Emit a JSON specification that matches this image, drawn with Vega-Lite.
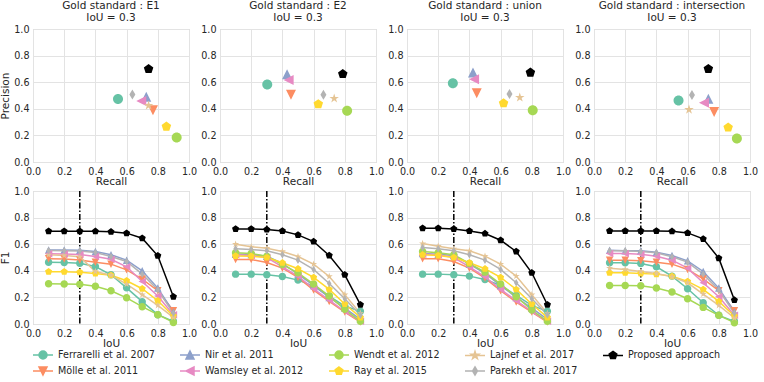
{
"$schema":"https://vega.github.io/schema/vega-lite/v6.json",
"padding":{"left":0,"top":0,"right":5,"bottom":0},
"datasets":{
"sc":[
{"gold":"E1","method":"Ferrarelli et al. 2007","recall":0.545,"precision":0.473},
{"gold":"E1","method":"Mölle et al. 2011","recall":0.769,"precision":0.39},
{"gold":"E1","method":"Nir et al. 2011","recall":0.726,"precision":0.49},
{"gold":"E1","method":"Wamsley et al. 2012","recall":0.694,"precision":0.458},
{"gold":"E1","method":"Wendt et al. 2012","recall":0.921,"precision":0.184},
{"gold":"E1","method":"Ray et al. 2015","recall":0.855,"precision":0.266},
{"gold":"E1","method":"Lajnef et al. 2017","recall":0.741,"precision":0.425},
{"gold":"E1","method":"Parekh et al. 2017","recall":0.637,"precision":0.507},
{"gold":"E1","method":"Proposed approach","recall":0.741,"precision":0.699},
{"gold":"E2","method":"Ferrarelli et al. 2007","recall":0.303,"precision":0.583},
{"gold":"E2","method":"Mölle et al. 2011","recall":0.455,"precision":0.505},
{"gold":"E2","method":"Nir et al. 2011","recall":0.43,"precision":0.66},
{"gold":"E2","method":"Wamsley et al. 2012","recall":0.44,"precision":0.617},
{"gold":"E2","method":"Wendt et al. 2012","recall":0.815,"precision":0.385},
{"gold":"E2","method":"Ray et al. 2015","recall":0.63,"precision":0.435},
{"gold":"E2","method":"Lajnef et al. 2017","recall":0.732,"precision":0.478},
{"gold":"E2","method":"Parekh et al. 2017","recall":0.663,"precision":0.505},
{"gold":"E2","method":"Proposed approach","recall":0.787,"precision":0.662},
{"gold":"union","method":"Ferrarelli et al. 2007","recall":0.294,"precision":0.592},
{"gold":"union","method":"Mölle et al. 2011","recall":0.447,"precision":0.517},
{"gold":"union","method":"Nir et al. 2011","recall":0.423,"precision":0.672},
{"gold":"union","method":"Wamsley et al. 2012","recall":0.43,"precision":0.622},
{"gold":"union","method":"Wendt et al. 2012","recall":0.806,"precision":0.39},
{"gold":"union","method":"Ray et al. 2015","recall":0.619,"precision":0.442},
{"gold":"union","method":"Lajnef et al. 2017","recall":0.723,"precision":0.485},
{"gold":"union","method":"Parekh et al. 2017","recall":0.657,"precision":0.512},
{"gold":"union","method":"Proposed approach","recall":0.791,"precision":0.672},
{"gold":"intersection","method":"Ferrarelli et al. 2007","recall":0.542,"precision":0.463},
{"gold":"intersection","method":"Mölle et al. 2011","recall":0.77,"precision":0.376},
{"gold":"intersection","method":"Nir et al. 2011","recall":0.733,"precision":0.476},
{"gold":"intersection","method":"Wamsley et al. 2012","recall":0.705,"precision":0.446},
{"gold":"intersection","method":"Wendt et al. 2012","recall":0.916,"precision":0.176},
{"gold":"intersection","method":"Ray et al. 2015","recall":0.86,"precision":0.26},
{"gold":"intersection","method":"Lajnef et al. 2017","recall":0.609,"precision":0.394},
{"gold":"intersection","method":"Parekh et al. 2017","recall":0.628,"precision":0.503},
{"gold":"intersection","method":"Proposed approach","recall":0.733,"precision":0.70}
],
"f1":[
{"gold":"E1","method":"Ferrarelli et al. 2007","iou":0.1,"f1":0.465},{"gold":"E1","method":"Ferrarelli et al. 2007","iou":0.2,"f1":0.463},{"gold":"E1","method":"Ferrarelli et al. 2007","iou":0.3,"f1":0.457},{"gold":"E1","method":"Ferrarelli et al. 2007","iou":0.4,"f1":0.432},{"gold":"E1","method":"Ferrarelli et al. 2007","iou":0.5,"f1":0.37},{"gold":"E1","method":"Ferrarelli et al. 2007","iou":0.6,"f1":0.272},{"gold":"E1","method":"Ferrarelli et al. 2007","iou":0.7,"f1":0.168},{"gold":"E1","method":"Ferrarelli et al. 2007","iou":0.8,"f1":0.07},{"gold":"E1","method":"Ferrarelli et al. 2007","iou":0.9,"f1":0.02},
{"gold":"E1","method":"Mölle et al. 2011","iou":0.1,"f1":0.49},{"gold":"E1","method":"Mölle et al. 2011","iou":0.2,"f1":0.488},{"gold":"E1","method":"Mölle et al. 2011","iou":0.3,"f1":0.482},{"gold":"E1","method":"Mölle et al. 2011","iou":0.4,"f1":0.465},{"gold":"E1","method":"Mölle et al. 2011","iou":0.5,"f1":0.45},{"gold":"E1","method":"Mölle et al. 2011","iou":0.6,"f1":0.407},{"gold":"E1","method":"Mölle et al. 2011","iou":0.7,"f1":0.337},{"gold":"E1","method":"Mölle et al. 2011","iou":0.8,"f1":0.25},{"gold":"E1","method":"Mölle et al. 2011","iou":0.9,"f1":0.1},
{"gold":"E1","method":"Nir et al. 2011","iou":0.1,"f1":0.557},{"gold":"E1","method":"Nir et al. 2011","iou":0.2,"f1":0.557},{"gold":"E1","method":"Nir et al. 2011","iou":0.3,"f1":0.555},{"gold":"E1","method":"Nir et al. 2011","iou":0.4,"f1":0.545},{"gold":"E1","method":"Nir et al. 2011","iou":0.5,"f1":0.52},{"gold":"E1","method":"Nir et al. 2011","iou":0.6,"f1":0.48},{"gold":"E1","method":"Nir et al. 2011","iou":0.7,"f1":0.40},{"gold":"E1","method":"Nir et al. 2011","iou":0.8,"f1":0.27},{"gold":"E1","method":"Nir et al. 2011","iou":0.9,"f1":0.09},
{"gold":"E1","method":"Wamsley et al. 2012","iou":0.1,"f1":0.528},{"gold":"E1","method":"Wamsley et al. 2012","iou":0.2,"f1":0.527},{"gold":"E1","method":"Wamsley et al. 2012","iou":0.3,"f1":0.522},{"gold":"E1","method":"Wamsley et al. 2012","iou":0.4,"f1":0.508},{"gold":"E1","method":"Wamsley et al. 2012","iou":0.5,"f1":0.487},{"gold":"E1","method":"Wamsley et al. 2012","iou":0.6,"f1":0.43},{"gold":"E1","method":"Wamsley et al. 2012","iou":0.7,"f1":0.32},{"gold":"E1","method":"Wamsley et al. 2012","iou":0.8,"f1":0.21},{"gold":"E1","method":"Wamsley et al. 2012","iou":0.9,"f1":0.07},
{"gold":"E1","method":"Wendt et al. 2012","iou":0.1,"f1":0.302},{"gold":"E1","method":"Wendt et al. 2012","iou":0.2,"f1":0.3},{"gold":"E1","method":"Wendt et al. 2012","iou":0.3,"f1":0.298},{"gold":"E1","method":"Wendt et al. 2012","iou":0.4,"f1":0.283},{"gold":"E1","method":"Wendt et al. 2012","iou":0.5,"f1":0.25},{"gold":"E1","method":"Wendt et al. 2012","iou":0.6,"f1":0.197},{"gold":"E1","method":"Wendt et al. 2012","iou":0.7,"f1":0.13},{"gold":"E1","method":"Wendt et al. 2012","iou":0.8,"f1":0.07},{"gold":"E1","method":"Wendt et al. 2012","iou":0.9,"f1":0.012},
{"gold":"E1","method":"Ray et al. 2015","iou":0.1,"f1":0.393},{"gold":"E1","method":"Ray et al. 2015","iou":0.2,"f1":0.393},{"gold":"E1","method":"Ray et al. 2015","iou":0.3,"f1":0.39},{"gold":"E1","method":"Ray et al. 2015","iou":0.4,"f1":0.38},{"gold":"E1","method":"Ray et al. 2015","iou":0.5,"f1":0.367},{"gold":"E1","method":"Ray et al. 2015","iou":0.6,"f1":0.325},{"gold":"E1","method":"Ray et al. 2015","iou":0.7,"f1":0.265},{"gold":"E1","method":"Ray et al. 2015","iou":0.8,"f1":0.175},{"gold":"E1","method":"Ray et al. 2015","iou":0.9,"f1":0.06},
{"gold":"E1","method":"Lajnef et al. 2017","iou":0.1,"f1":0.52},{"gold":"E1","method":"Lajnef et al. 2017","iou":0.2,"f1":0.515},{"gold":"E1","method":"Lajnef et al. 2017","iou":0.3,"f1":0.505},{"gold":"E1","method":"Lajnef et al. 2017","iou":0.4,"f1":0.395},{"gold":"E1","method":"Lajnef et al. 2017","iou":0.5,"f1":0.367},{"gold":"E1","method":"Lajnef et al. 2017","iou":0.6,"f1":0.3},{"gold":"E1","method":"Lajnef et al. 2017","iou":0.7,"f1":0.22},{"gold":"E1","method":"Lajnef et al. 2017","iou":0.8,"f1":0.14},{"gold":"E1","method":"Lajnef et al. 2017","iou":0.9,"f1":0.05},
{"gold":"E1","method":"Parekh et al. 2017","iou":0.1,"f1":0.552},{"gold":"E1","method":"Parekh et al. 2017","iou":0.2,"f1":0.551},{"gold":"E1","method":"Parekh et al. 2017","iou":0.3,"f1":0.548},{"gold":"E1","method":"Parekh et al. 2017","iou":0.4,"f1":0.538},{"gold":"E1","method":"Parekh et al. 2017","iou":0.5,"f1":0.507},{"gold":"E1","method":"Parekh et al. 2017","iou":0.6,"f1":0.47},{"gold":"E1","method":"Parekh et al. 2017","iou":0.7,"f1":0.375},{"gold":"E1","method":"Parekh et al. 2017","iou":0.8,"f1":0.257},{"gold":"E1","method":"Parekh et al. 2017","iou":0.9,"f1":0.08},
{"gold":"E1","method":"Proposed approach","iou":0.1,"f1":0.698},{"gold":"E1","method":"Proposed approach","iou":0.2,"f1":0.698},{"gold":"E1","method":"Proposed approach","iou":0.3,"f1":0.698},{"gold":"E1","method":"Proposed approach","iou":0.4,"f1":0.697},{"gold":"E1","method":"Proposed approach","iou":0.5,"f1":0.693},{"gold":"E1","method":"Proposed approach","iou":0.6,"f1":0.683},{"gold":"E1","method":"Proposed approach","iou":0.7,"f1":0.645},{"gold":"E1","method":"Proposed approach","iou":0.8,"f1":0.513},{"gold":"E1","method":"Proposed approach","iou":0.9,"f1":0.205},
{"gold":"E2","method":"Ferrarelli et al. 2007","iou":0.1,"f1":0.375},{"gold":"E2","method":"Ferrarelli et al. 2007","iou":0.2,"f1":0.375},{"gold":"E2","method":"Ferrarelli et al. 2007","iou":0.3,"f1":0.37},{"gold":"E2","method":"Ferrarelli et al. 2007","iou":0.4,"f1":0.357},{"gold":"E2","method":"Ferrarelli et al. 2007","iou":0.5,"f1":0.33},{"gold":"E2","method":"Ferrarelli et al. 2007","iou":0.6,"f1":0.285},{"gold":"E2","method":"Ferrarelli et al. 2007","iou":0.7,"f1":0.21},{"gold":"E2","method":"Ferrarelli et al. 2007","iou":0.8,"f1":0.135},{"gold":"E2","method":"Ferrarelli et al. 2007","iou":0.9,"f1":0.095},
{"gold":"E2","method":"Mölle et al. 2011","iou":0.1,"f1":0.485},{"gold":"E2","method":"Mölle et al. 2011","iou":0.2,"f1":0.485},{"gold":"E2","method":"Mölle et al. 2011","iou":0.3,"f1":0.463},{"gold":"E2","method":"Mölle et al. 2011","iou":0.4,"f1":0.42},{"gold":"E2","method":"Mölle et al. 2011","iou":0.5,"f1":0.35},{"gold":"E2","method":"Mölle et al. 2011","iou":0.6,"f1":0.255},{"gold":"E2","method":"Mölle et al. 2011","iou":0.7,"f1":0.17},{"gold":"E2","method":"Mölle et al. 2011","iou":0.8,"f1":0.09},{"gold":"E2","method":"Mölle et al. 2011","iou":0.9,"f1":0.015},
{"gold":"E2","method":"Nir et al. 2011","iou":0.1,"f1":0.525},{"gold":"E2","method":"Nir et al. 2011","iou":0.2,"f1":0.522},{"gold":"E2","method":"Nir et al. 2011","iou":0.3,"f1":0.51},{"gold":"E2","method":"Nir et al. 2011","iou":0.4,"f1":0.455},{"gold":"E2","method":"Nir et al. 2011","iou":0.5,"f1":0.375},{"gold":"E2","method":"Nir et al. 2011","iou":0.6,"f1":0.29},{"gold":"E2","method":"Nir et al. 2011","iou":0.7,"f1":0.2},{"gold":"E2","method":"Nir et al. 2011","iou":0.8,"f1":0.12},{"gold":"E2","method":"Nir et al. 2011","iou":0.9,"f1":0.035},
{"gold":"E2","method":"Wamsley et al. 2012","iou":0.1,"f1":0.52},{"gold":"E2","method":"Wamsley et al. 2012","iou":0.2,"f1":0.515},{"gold":"E2","method":"Wamsley et al. 2012","iou":0.3,"f1":0.50},{"gold":"E2","method":"Wamsley et al. 2012","iou":0.4,"f1":0.43},{"gold":"E2","method":"Wamsley et al. 2012","iou":0.5,"f1":0.36},{"gold":"E2","method":"Wamsley et al. 2012","iou":0.6,"f1":0.265},{"gold":"E2","method":"Wamsley et al. 2012","iou":0.7,"f1":0.18},{"gold":"E2","method":"Wamsley et al. 2012","iou":0.8,"f1":0.095},{"gold":"E2","method":"Wamsley et al. 2012","iou":0.9,"f1":0.02},
{"gold":"E2","method":"Wendt et al. 2012","iou":0.1,"f1":0.535},{"gold":"E2","method":"Wendt et al. 2012","iou":0.2,"f1":0.53},{"gold":"E2","method":"Wendt et al. 2012","iou":0.3,"f1":0.51},{"gold":"E2","method":"Wendt et al. 2012","iou":0.4,"f1":0.447},{"gold":"E2","method":"Wendt et al. 2012","iou":0.5,"f1":0.385},{"gold":"E2","method":"Wendt et al. 2012","iou":0.6,"f1":0.30},{"gold":"E2","method":"Wendt et al. 2012","iou":0.7,"f1":0.21},{"gold":"E2","method":"Wendt et al. 2012","iou":0.8,"f1":0.11},{"gold":"E2","method":"Wendt et al. 2012","iou":0.9,"f1":0.02},
{"gold":"E2","method":"Ray et al. 2015","iou":0.1,"f1":0.512},{"gold":"E2","method":"Ray et al. 2015","iou":0.2,"f1":0.51},{"gold":"E2","method":"Ray et al. 2015","iou":0.3,"f1":0.50},{"gold":"E2","method":"Ray et al. 2015","iou":0.4,"f1":0.46},{"gold":"E2","method":"Ray et al. 2015","iou":0.5,"f1":0.415},{"gold":"E2","method":"Ray et al. 2015","iou":0.6,"f1":0.35},{"gold":"E2","method":"Ray et al. 2015","iou":0.7,"f1":0.26},{"gold":"E2","method":"Ray et al. 2015","iou":0.8,"f1":0.15},{"gold":"E2","method":"Ray et al. 2015","iou":0.9,"f1":0.05},
{"gold":"E2","method":"Lajnef et al. 2017","iou":0.1,"f1":0.60},{"gold":"E2","method":"Lajnef et al. 2017","iou":0.2,"f1":0.58},{"gold":"E2","method":"Lajnef et al. 2017","iou":0.3,"f1":0.57},{"gold":"E2","method":"Lajnef et al. 2017","iou":0.4,"f1":0.545},{"gold":"E2","method":"Lajnef et al. 2017","iou":0.5,"f1":0.507},{"gold":"E2","method":"Lajnef et al. 2017","iou":0.6,"f1":0.45},{"gold":"E2","method":"Lajnef et al. 2017","iou":0.7,"f1":0.357},{"gold":"E2","method":"Lajnef et al. 2017","iou":0.8,"f1":0.22},{"gold":"E2","method":"Lajnef et al. 2017","iou":0.9,"f1":0.08},
{"gold":"E2","method":"Parekh et al. 2017","iou":0.1,"f1":0.565},{"gold":"E2","method":"Parekh et al. 2017","iou":0.2,"f1":0.56},{"gold":"E2","method":"Parekh et al. 2017","iou":0.3,"f1":0.55},{"gold":"E2","method":"Parekh et al. 2017","iou":0.4,"f1":0.52},{"gold":"E2","method":"Parekh et al. 2017","iou":0.5,"f1":0.48},{"gold":"E2","method":"Parekh et al. 2017","iou":0.6,"f1":0.41},{"gold":"E2","method":"Parekh et al. 2017","iou":0.7,"f1":0.305},{"gold":"E2","method":"Parekh et al. 2017","iou":0.8,"f1":0.19},{"gold":"E2","method":"Parekh et al. 2017","iou":0.9,"f1":0.065},
{"gold":"E2","method":"Proposed approach","iou":0.1,"f1":0.715},{"gold":"E2","method":"Proposed approach","iou":0.2,"f1":0.715},{"gold":"E2","method":"Proposed approach","iou":0.3,"f1":0.71},{"gold":"E2","method":"Proposed approach","iou":0.4,"f1":0.70},{"gold":"E2","method":"Proposed approach","iou":0.5,"f1":0.67},{"gold":"E2","method":"Proposed approach","iou":0.6,"f1":0.62},{"gold":"E2","method":"Proposed approach","iou":0.7,"f1":0.515},{"gold":"E2","method":"Proposed approach","iou":0.8,"f1":0.37},{"gold":"E2","method":"Proposed approach","iou":0.9,"f1":0.145},
{"gold":"union","method":"Ferrarelli et al. 2007","iou":0.1,"f1":0.375},{"gold":"union","method":"Ferrarelli et al. 2007","iou":0.2,"f1":0.375},{"gold":"union","method":"Ferrarelli et al. 2007","iou":0.3,"f1":0.37},{"gold":"union","method":"Ferrarelli et al. 2007","iou":0.4,"f1":0.36},{"gold":"union","method":"Ferrarelli et al. 2007","iou":0.5,"f1":0.335},{"gold":"union","method":"Ferrarelli et al. 2007","iou":0.6,"f1":0.29},{"gold":"union","method":"Ferrarelli et al. 2007","iou":0.7,"f1":0.215},{"gold":"union","method":"Ferrarelli et al. 2007","iou":0.8,"f1":0.14},{"gold":"union","method":"Ferrarelli et al. 2007","iou":0.9,"f1":0.095},
{"gold":"union","method":"Mölle et al. 2011","iou":0.1,"f1":0.49},{"gold":"union","method":"Mölle et al. 2011","iou":0.2,"f1":0.49},{"gold":"union","method":"Mölle et al. 2011","iou":0.3,"f1":0.47},{"gold":"union","method":"Mölle et al. 2011","iou":0.4,"f1":0.42},{"gold":"union","method":"Mölle et al. 2011","iou":0.5,"f1":0.345},{"gold":"union","method":"Mölle et al. 2011","iou":0.6,"f1":0.25},{"gold":"union","method":"Mölle et al. 2011","iou":0.7,"f1":0.165},{"gold":"union","method":"Mölle et al. 2011","iou":0.8,"f1":0.09},{"gold":"union","method":"Mölle et al. 2011","iou":0.9,"f1":0.015},
{"gold":"union","method":"Nir et al. 2011","iou":0.1,"f1":0.53},{"gold":"union","method":"Nir et al. 2011","iou":0.2,"f1":0.525},{"gold":"union","method":"Nir et al. 2011","iou":0.3,"f1":0.515},{"gold":"union","method":"Nir et al. 2011","iou":0.4,"f1":0.45},{"gold":"union","method":"Nir et al. 2011","iou":0.5,"f1":0.38},{"gold":"union","method":"Nir et al. 2011","iou":0.6,"f1":0.29},{"gold":"union","method":"Nir et al. 2011","iou":0.7,"f1":0.2},{"gold":"union","method":"Nir et al. 2011","iou":0.8,"f1":0.12},{"gold":"union","method":"Nir et al. 2011","iou":0.9,"f1":0.035},
{"gold":"union","method":"Wamsley et al. 2012","iou":0.1,"f1":0.525},{"gold":"union","method":"Wamsley et al. 2012","iou":0.2,"f1":0.52},{"gold":"union","method":"Wamsley et al. 2012","iou":0.3,"f1":0.50},{"gold":"union","method":"Wamsley et al. 2012","iou":0.4,"f1":0.43},{"gold":"union","method":"Wamsley et al. 2012","iou":0.5,"f1":0.355},{"gold":"union","method":"Wamsley et al. 2012","iou":0.6,"f1":0.26},{"gold":"union","method":"Wamsley et al. 2012","iou":0.7,"f1":0.175},{"gold":"union","method":"Wamsley et al. 2012","iou":0.8,"f1":0.095},{"gold":"union","method":"Wamsley et al. 2012","iou":0.9,"f1":0.02},
{"gold":"union","method":"Wendt et al. 2012","iou":0.1,"f1":0.545},{"gold":"union","method":"Wendt et al. 2012","iou":0.2,"f1":0.535},{"gold":"union","method":"Wendt et al. 2012","iou":0.3,"f1":0.52},{"gold":"union","method":"Wendt et al. 2012","iou":0.4,"f1":0.455},{"gold":"union","method":"Wendt et al. 2012","iou":0.5,"f1":0.39},{"gold":"union","method":"Wendt et al. 2012","iou":0.6,"f1":0.30},{"gold":"union","method":"Wendt et al. 2012","iou":0.7,"f1":0.205},{"gold":"union","method":"Wendt et al. 2012","iou":0.8,"f1":0.105},{"gold":"union","method":"Wendt et al. 2012","iou":0.9,"f1":0.02},
{"gold":"union","method":"Ray et al. 2015","iou":0.1,"f1":0.52},{"gold":"union","method":"Ray et al. 2015","iou":0.2,"f1":0.515},{"gold":"union","method":"Ray et al. 2015","iou":0.3,"f1":0.50},{"gold":"union","method":"Ray et al. 2015","iou":0.4,"f1":0.46},{"gold":"union","method":"Ray et al. 2015","iou":0.5,"f1":0.415},{"gold":"union","method":"Ray et al. 2015","iou":0.6,"f1":0.35},{"gold":"union","method":"Ray et al. 2015","iou":0.7,"f1":0.26},{"gold":"union","method":"Ray et al. 2015","iou":0.8,"f1":0.15},{"gold":"union","method":"Ray et al. 2015","iou":0.9,"f1":0.05},
{"gold":"union","method":"Lajnef et al. 2017","iou":0.1,"f1":0.605},{"gold":"union","method":"Lajnef et al. 2017","iou":0.2,"f1":0.585},{"gold":"union","method":"Lajnef et al. 2017","iou":0.3,"f1":0.565},{"gold":"union","method":"Lajnef et al. 2017","iou":0.4,"f1":0.55},{"gold":"union","method":"Lajnef et al. 2017","iou":0.5,"f1":0.51},{"gold":"union","method":"Lajnef et al. 2017","iou":0.6,"f1":0.45},{"gold":"union","method":"Lajnef et al. 2017","iou":0.7,"f1":0.36},{"gold":"union","method":"Lajnef et al. 2017","iou":0.8,"f1":0.22},{"gold":"union","method":"Lajnef et al. 2017","iou":0.9,"f1":0.08},
{"gold":"union","method":"Parekh et al. 2017","iou":0.1,"f1":0.575},{"gold":"union","method":"Parekh et al. 2017","iou":0.2,"f1":0.565},{"gold":"union","method":"Parekh et al. 2017","iou":0.3,"f1":0.55},{"gold":"union","method":"Parekh et al. 2017","iou":0.4,"f1":0.52},{"gold":"union","method":"Parekh et al. 2017","iou":0.5,"f1":0.48},{"gold":"union","method":"Parekh et al. 2017","iou":0.6,"f1":0.41},{"gold":"union","method":"Parekh et al. 2017","iou":0.7,"f1":0.31},{"gold":"union","method":"Parekh et al. 2017","iou":0.8,"f1":0.19},{"gold":"union","method":"Parekh et al. 2017","iou":0.9,"f1":0.07},
{"gold":"union","method":"Proposed approach","iou":0.1,"f1":0.72},{"gold":"union","method":"Proposed approach","iou":0.2,"f1":0.72},{"gold":"union","method":"Proposed approach","iou":0.3,"f1":0.715},{"gold":"union","method":"Proposed approach","iou":0.4,"f1":0.70},{"gold":"union","method":"Proposed approach","iou":0.5,"f1":0.68},{"gold":"union","method":"Proposed approach","iou":0.6,"f1":0.63},{"gold":"union","method":"Proposed approach","iou":0.7,"f1":0.545},{"gold":"union","method":"Proposed approach","iou":0.8,"f1":0.385},{"gold":"union","method":"Proposed approach","iou":0.9,"f1":0.145},
{"gold":"intersection","method":"Ferrarelli et al. 2007","iou":0.1,"f1":0.46},{"gold":"intersection","method":"Ferrarelli et al. 2007","iou":0.2,"f1":0.46},{"gold":"intersection","method":"Ferrarelli et al. 2007","iou":0.3,"f1":0.455},{"gold":"intersection","method":"Ferrarelli et al. 2007","iou":0.4,"f1":0.43},{"gold":"intersection","method":"Ferrarelli et al. 2007","iou":0.5,"f1":0.36},{"gold":"intersection","method":"Ferrarelli et al. 2007","iou":0.6,"f1":0.265},{"gold":"intersection","method":"Ferrarelli et al. 2007","iou":0.7,"f1":0.16},{"gold":"intersection","method":"Ferrarelli et al. 2007","iou":0.8,"f1":0.065},{"gold":"intersection","method":"Ferrarelli et al. 2007","iou":0.9,"f1":0.02},
{"gold":"intersection","method":"Mölle et al. 2011","iou":0.1,"f1":0.48},{"gold":"intersection","method":"Mölle et al. 2011","iou":0.2,"f1":0.48},{"gold":"intersection","method":"Mölle et al. 2011","iou":0.3,"f1":0.475},{"gold":"intersection","method":"Mölle et al. 2011","iou":0.4,"f1":0.465},{"gold":"intersection","method":"Mölle et al. 2011","iou":0.5,"f1":0.45},{"gold":"intersection","method":"Mölle et al. 2011","iou":0.6,"f1":0.41},{"gold":"intersection","method":"Mölle et al. 2011","iou":0.7,"f1":0.34},{"gold":"intersection","method":"Mölle et al. 2011","iou":0.8,"f1":0.25},{"gold":"intersection","method":"Mölle et al. 2011","iou":0.9,"f1":0.1},
{"gold":"intersection","method":"Nir et al. 2011","iou":0.1,"f1":0.555},{"gold":"intersection","method":"Nir et al. 2011","iou":0.2,"f1":0.55},{"gold":"intersection","method":"Nir et al. 2011","iou":0.3,"f1":0.55},{"gold":"intersection","method":"Nir et al. 2011","iou":0.4,"f1":0.54},{"gold":"intersection","method":"Nir et al. 2011","iou":0.5,"f1":0.515},{"gold":"intersection","method":"Nir et al. 2011","iou":0.6,"f1":0.475},{"gold":"intersection","method":"Nir et al. 2011","iou":0.7,"f1":0.395},{"gold":"intersection","method":"Nir et al. 2011","iou":0.8,"f1":0.27},{"gold":"intersection","method":"Nir et al. 2011","iou":0.9,"f1":0.09},
{"gold":"intersection","method":"Wamsley et al. 2012","iou":0.1,"f1":0.53},{"gold":"intersection","method":"Wamsley et al. 2012","iou":0.2,"f1":0.53},{"gold":"intersection","method":"Wamsley et al. 2012","iou":0.3,"f1":0.525},{"gold":"intersection","method":"Wamsley et al. 2012","iou":0.4,"f1":0.51},{"gold":"intersection","method":"Wamsley et al. 2012","iou":0.5,"f1":0.48},{"gold":"intersection","method":"Wamsley et al. 2012","iou":0.6,"f1":0.42},{"gold":"intersection","method":"Wamsley et al. 2012","iou":0.7,"f1":0.31},{"gold":"intersection","method":"Wamsley et al. 2012","iou":0.8,"f1":0.205},{"gold":"intersection","method":"Wamsley et al. 2012","iou":0.9,"f1":0.065},
{"gold":"intersection","method":"Wendt et al. 2012","iou":0.1,"f1":0.29},{"gold":"intersection","method":"Wendt et al. 2012","iou":0.2,"f1":0.29},{"gold":"intersection","method":"Wendt et al. 2012","iou":0.3,"f1":0.287},{"gold":"intersection","method":"Wendt et al. 2012","iou":0.4,"f1":0.27},{"gold":"intersection","method":"Wendt et al. 2012","iou":0.5,"f1":0.24},{"gold":"intersection","method":"Wendt et al. 2012","iou":0.6,"f1":0.19},{"gold":"intersection","method":"Wendt et al. 2012","iou":0.7,"f1":0.125},{"gold":"intersection","method":"Wendt et al. 2012","iou":0.8,"f1":0.065},{"gold":"intersection","method":"Wendt et al. 2012","iou":0.9,"f1":0.01},
{"gold":"intersection","method":"Ray et al. 2015","iou":0.1,"f1":0.385},{"gold":"intersection","method":"Ray et al. 2015","iou":0.2,"f1":0.385},{"gold":"intersection","method":"Ray et al. 2015","iou":0.3,"f1":0.38},{"gold":"intersection","method":"Ray et al. 2015","iou":0.4,"f1":0.375},{"gold":"intersection","method":"Ray et al. 2015","iou":0.5,"f1":0.36},{"gold":"intersection","method":"Ray et al. 2015","iou":0.6,"f1":0.32},{"gold":"intersection","method":"Ray et al. 2015","iou":0.7,"f1":0.26},{"gold":"intersection","method":"Ray et al. 2015","iou":0.8,"f1":0.17},{"gold":"intersection","method":"Ray et al. 2015","iou":0.9,"f1":0.06},
{"gold":"intersection","method":"Lajnef et al. 2017","iou":0.1,"f1":0.42},{"gold":"intersection","method":"Lajnef et al. 2017","iou":0.2,"f1":0.41},{"gold":"intersection","method":"Lajnef et al. 2017","iou":0.3,"f1":0.395},{"gold":"intersection","method":"Lajnef et al. 2017","iou":0.4,"f1":0.38},{"gold":"intersection","method":"Lajnef et al. 2017","iou":0.5,"f1":0.355},{"gold":"intersection","method":"Lajnef et al. 2017","iou":0.6,"f1":0.31},{"gold":"intersection","method":"Lajnef et al. 2017","iou":0.7,"f1":0.225},{"gold":"intersection","method":"Lajnef et al. 2017","iou":0.8,"f1":0.14},{"gold":"intersection","method":"Lajnef et al. 2017","iou":0.9,"f1":0.045},
{"gold":"intersection","method":"Parekh et al. 2017","iou":0.1,"f1":0.55},{"gold":"intersection","method":"Parekh et al. 2017","iou":0.2,"f1":0.55},{"gold":"intersection","method":"Parekh et al. 2017","iou":0.3,"f1":0.545},{"gold":"intersection","method":"Parekh et al. 2017","iou":0.4,"f1":0.535},{"gold":"intersection","method":"Parekh et al. 2017","iou":0.5,"f1":0.505},{"gold":"intersection","method":"Parekh et al. 2017","iou":0.6,"f1":0.465},{"gold":"intersection","method":"Parekh et al. 2017","iou":0.7,"f1":0.375},{"gold":"intersection","method":"Parekh et al. 2017","iou":0.8,"f1":0.255},{"gold":"intersection","method":"Parekh et al. 2017","iou":0.9,"f1":0.08},
{"gold":"intersection","method":"Proposed approach","iou":0.1,"f1":0.70},{"gold":"intersection","method":"Proposed approach","iou":0.2,"f1":0.70},{"gold":"intersection","method":"Proposed approach","iou":0.3,"f1":0.70},{"gold":"intersection","method":"Proposed approach","iou":0.4,"f1":0.70},{"gold":"intersection","method":"Proposed approach","iou":0.5,"f1":0.697},{"gold":"intersection","method":"Proposed approach","iou":0.6,"f1":0.685},{"gold":"intersection","method":"Proposed approach","iou":0.7,"f1":0.64},{"gold":"intersection","method":"Proposed approach","iou":0.8,"f1":0.495},{"gold":"intersection","method":"Proposed approach","iou":0.9,"f1":0.18}
],
"mk":[{"iou":0.3}]
},
"columns":4,
"bounds":"flush",
"spacing":{"row":29,"column":31},
"concat":[
{"width":156,"height":133,"title":{"text":["Gold standard : E1","IoU = 0.3"]},"data":{"name":"sc"},"transform":[{"filter":"datum.gold==='E1'"}],"mark":{"type":"point","filled":true,"opacity":1,"size":100},
 "encoding":{"x":{"field":"recall","type":"quantitative","scale":{"domain":[0,1],"nice":false},"axis":{"title":"Recall","format":".1f"}},
 "y":{"field":"precision","type":"quantitative","scale":{"domain":[0,1],"nice":false},"axis":{"title":"Precision","format":".1f"}},
 "color":{"field":"method","type":"nominal","scale":{"domain":["Ferrarelli et al. 2007","Nir et al. 2011","Wendt et al. 2012","Lajnef et al. 2017","Proposed approach","Mölle et al. 2011","Wamsley et al. 2012","Ray et al. 2015","Parekh et al. 2017"],"range":["#66c2a5","#8da0cb","#a6d854","#e5c494","#000000","#fc8d62","#e78ac3","#ffd92f","#b3b3b3"]},
  "legend":{"orient":"bottom","direction":"horizontal","columns":5,"title":null,"symbolSize":64,"labelFontSize":9.6,"labelColor":"#262626","labelOffset":10,"columnPadding":22,"rowPadding":2,"offset":0,"encode":{"symbols":{"update":{"stroke":{"scale":"color","field":"value"},"fill":{"scale":"color","field":"value"},"strokeWidth":{"value":1.5},"opacity":{"value":1}}}}}},
 "shape":{"field":"method","type":"nominal","scale":{"domain":["Ferrarelli et al. 2007","Nir et al. 2011","Wendt et al. 2012","Lajnef et al. 2017","Proposed approach","Mölle et al. 2011","Wamsley et al. 2012","Ray et al. 2015","Parekh et al. 2017"],"range":["M1,0A1,1,0,1,1,-1,0A1,1,0,1,1,1,0Z M-2.5,0L2.5,0","M0,-1L1,1L-1,1Z M-2.5,0L2.5,0","M1,0A1,1,0,1,1,-1,0A1,1,0,1,1,1,0Z M-2.5,0L2.5,0","M0,-1L0.2245,-0.309L0.951,-0.309L0.363,0.118L0.588,0.809L0,0.382L-0.588,0.809L-0.363,0.118L-0.951,-0.309L-0.2245,-0.309Z M-2.5,0L2.5,0","M0,-1L0.951,-0.309L0.588,0.809L-0.588,0.809L-0.951,-0.309Z M-2.5,0L2.5,0","M0,1L1,-1L-1,-1Z M-2.5,0L2.5,0","M-1,0L1,-1L1,1Z M-2.5,0L2.5,0","M0,-1L0.951,-0.309L0.588,0.809L-0.588,0.809L-0.951,-0.309Z M-2.5,0L2.5,0","M0,-1L0.6,0L0,1L-0.6,0Z M-2.5,0L2.5,0"]},
  "legend":{"orient":"bottom","direction":"horizontal","columns":5,"title":null,"symbolSize":64,"labelFontSize":9.6,"labelColor":"#262626","labelOffset":10,"columnPadding":22,"rowPadding":2,"offset":0}}}},
{"width":156,"height":133,"title":{"text":["Gold standard : E2","IoU = 0.3"]},"data":{"name":"sc"},"transform":[{"filter":"datum.gold==='E2'"}],"mark":{"type":"point","filled":true,"opacity":1,"size":100},
 "encoding":{"x":{"field":"recall","type":"quantitative","scale":{"domain":[0,1],"nice":false},"axis":{"title":"Recall","format":".1f"}},
 "y":{"field":"precision","type":"quantitative","scale":{"domain":[0,1],"nice":false},"axis":{"title":null,"format":".1f"}},
 "color":{"field":"method","type":"nominal"},"shape":{"field":"method","type":"nominal"}}},
{"width":156,"height":133,"title":{"text":["Gold standard : union","IoU = 0.3"]},"data":{"name":"sc"},"transform":[{"filter":"datum.gold==='union'"}],"mark":{"type":"point","filled":true,"opacity":1,"size":100},
 "encoding":{"x":{"field":"recall","type":"quantitative","scale":{"domain":[0,1],"nice":false},"axis":{"title":"Recall","format":".1f"}},
 "y":{"field":"precision","type":"quantitative","scale":{"domain":[0,1],"nice":false},"axis":{"title":null,"format":".1f"}},
 "color":{"field":"method","type":"nominal"},"shape":{"field":"method","type":"nominal"}}},
{"width":156,"height":133,"title":{"text":["Gold standard : intersection","IoU = 0.3"]},"data":{"name":"sc"},"transform":[{"filter":"datum.gold==='intersection'"}],"mark":{"type":"point","filled":true,"opacity":1,"size":100},
 "encoding":{"x":{"field":"recall","type":"quantitative","scale":{"domain":[0,1],"nice":false},"axis":{"title":"Recall","format":".1f"}},
 "y":{"field":"precision","type":"quantitative","scale":{"domain":[0,1],"nice":false},"axis":{"title":null,"format":".1f"}},
 "color":{"field":"method","type":"nominal"},"shape":{"field":"method","type":"nominal"}}},
{"width":156,"height":133,"layer":[
 {"data":{"name":"mk"},"mark":{"type":"rule","color":"#000000","strokeWidth":1.5,"strokeDash":[6,2,1.5,2]},"encoding":{"x":{"field":"iou","type":"quantitative","scale":{"domain":[0,1],"nice":false},"axis":{"title":"IoU","format":".1f"}}}},
 {"data":{"name":"f1"},"transform":[{"filter":"datum.gold==='E1'"}],"mark":{"type":"line","strokeWidth":1.5},"encoding":{"x":{"field":"iou","type":"quantitative","scale":{"domain":[0,1],"nice":false},"axis":{"title":"IoU","format":".1f"}},"y":{"field":"f1","type":"quantitative","scale":{"domain":[0,1],"nice":false},"axis":{"title":"F1","format":".1f"}},"color":{"field":"method","type":"nominal"}}},
 {"data":{"name":"f1"},"transform":[{"filter":"datum.gold==='E1'"}],"mark":{"type":"point","filled":true,"opacity":1,"size":56},"encoding":{"x":{"field":"iou","type":"quantitative"},"y":{"field":"f1","type":"quantitative"},"color":{"field":"method","type":"nominal"},"shape":{"field":"method","type":"nominal"}}}
]},
{"width":156,"height":133,"layer":[
 {"data":{"name":"mk"},"mark":{"type":"rule","color":"#000000","strokeWidth":1.5,"strokeDash":[6,2,1.5,2]},"encoding":{"x":{"field":"iou","type":"quantitative","scale":{"domain":[0,1],"nice":false},"axis":{"title":"IoU","format":".1f"}}}},
 {"data":{"name":"f1"},"transform":[{"filter":"datum.gold==='E2'"}],"mark":{"type":"line","strokeWidth":1.5},"encoding":{"x":{"field":"iou","type":"quantitative","scale":{"domain":[0,1],"nice":false},"axis":{"title":"IoU","format":".1f"}},"y":{"field":"f1","type":"quantitative","scale":{"domain":[0,1],"nice":false},"axis":{"title":null,"format":".1f"}},"color":{"field":"method","type":"nominal"}}},
 {"data":{"name":"f1"},"transform":[{"filter":"datum.gold==='E2'"}],"mark":{"type":"point","filled":true,"opacity":1,"size":56},"encoding":{"x":{"field":"iou","type":"quantitative"},"y":{"field":"f1","type":"quantitative"},"color":{"field":"method","type":"nominal"},"shape":{"field":"method","type":"nominal"}}}
]},
{"width":156,"height":133,"layer":[
 {"data":{"name":"mk"},"mark":{"type":"rule","color":"#000000","strokeWidth":1.5,"strokeDash":[6,2,1.5,2]},"encoding":{"x":{"field":"iou","type":"quantitative","scale":{"domain":[0,1],"nice":false},"axis":{"title":"IoU","format":".1f"}}}},
 {"data":{"name":"f1"},"transform":[{"filter":"datum.gold==='union'"}],"mark":{"type":"line","strokeWidth":1.5},"encoding":{"x":{"field":"iou","type":"quantitative","scale":{"domain":[0,1],"nice":false},"axis":{"title":"IoU","format":".1f"}},"y":{"field":"f1","type":"quantitative","scale":{"domain":[0,1],"nice":false},"axis":{"title":null,"format":".1f"}},"color":{"field":"method","type":"nominal"}}},
 {"data":{"name":"f1"},"transform":[{"filter":"datum.gold==='union'"}],"mark":{"type":"point","filled":true,"opacity":1,"size":56},"encoding":{"x":{"field":"iou","type":"quantitative"},"y":{"field":"f1","type":"quantitative"},"color":{"field":"method","type":"nominal"},"shape":{"field":"method","type":"nominal"}}}
]},
{"width":156,"height":133,"layer":[
 {"data":{"name":"mk"},"mark":{"type":"rule","color":"#000000","strokeWidth":1.5,"strokeDash":[6,2,1.5,2]},"encoding":{"x":{"field":"iou","type":"quantitative","scale":{"domain":[0,1],"nice":false},"axis":{"title":"IoU","format":".1f"}}}},
 {"data":{"name":"f1"},"transform":[{"filter":"datum.gold==='intersection'"}],"mark":{"type":"line","strokeWidth":1.5},"encoding":{"x":{"field":"iou","type":"quantitative","scale":{"domain":[0,1],"nice":false},"axis":{"title":"IoU","format":".1f"}},"y":{"field":"f1","type":"quantitative","scale":{"domain":[0,1],"nice":false},"axis":{"title":null,"format":".1f"}},"color":{"field":"method","type":"nominal"}}},
 {"data":{"name":"f1"},"transform":[{"filter":"datum.gold==='intersection'"}],"mark":{"type":"point","filled":true,"opacity":1,"size":56},"encoding":{"x":{"field":"iou","type":"quantitative"},"y":{"field":"f1","type":"quantitative"},"color":{"field":"method","type":"nominal"},"shape":{"field":"method","type":"nominal"}}}
]}
],
"config":{
 "font":"DejaVu Sans",
 "view":{"stroke":"#cccccc","strokeWidth":1},
 "axis":{"labelFontSize":9.6,"titleFontSize":10.5,"labelColor":"#262626","titleColor":"#262626","titleFontWeight":"normal","ticks":false,"domain":false,"grid":true,"gridColor":"#e3e3e3","labelPadding":4,"tickCount":5,"labelFlush":false},
 "axisY":{"titlePadding":3},
 "axisX":{"titlePadding":1},
 "title":{"fontSize":10.5,"fontWeight":"normal","color":"#262626","offset":1,"lineHeight":12},
 "legend":{"layout":{"bottom":{"anchor":"middle"}}}
}
}
